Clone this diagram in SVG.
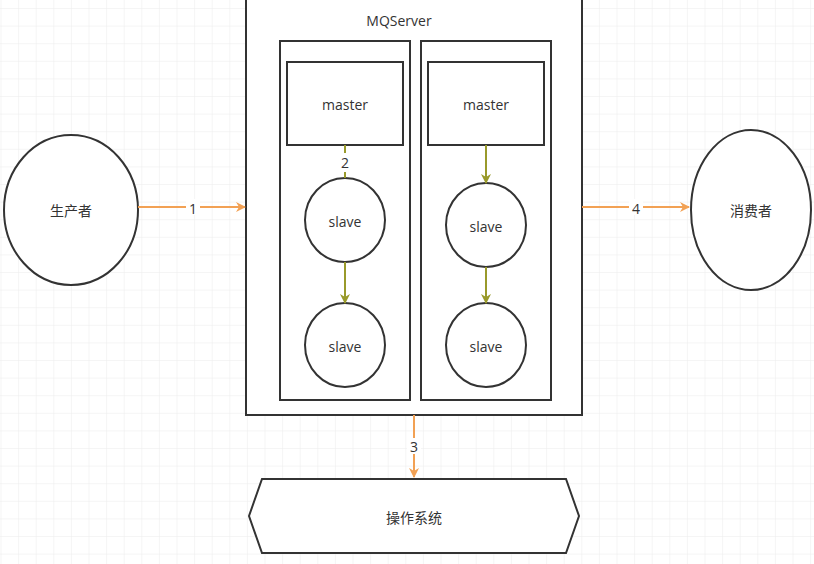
<svg xmlns="http://www.w3.org/2000/svg" width="814" height="564" viewBox="0 0 814 564">
<style>
.s{fill:#fff;stroke:#333;stroke-width:2}
.t{font-family:"Open Sans","Liberation Sans","Noto Sans CJK SC",sans-serif;font-size:14px;fill:#333;text-anchor:middle;dominant-baseline:central}
.o{stroke:#f2a154;stroke-width:2;fill:none;marker-end:url(#ao)}
.g{stroke:#999a2b;stroke-width:2;fill:none;marker-end:url(#ag)}
</style>
<defs>
<pattern id="grid" width="17.6" height="17.6" patternUnits="userSpaceOnUse" x="1.5" y="9">
<path d="M17.6 0V17.6M0 17.6H17.6" stroke="#ececec" stroke-width="1" fill="none"/>
</pattern>
<marker id="ao" markerWidth="10" markerHeight="10" refX="9" refY="5" orient="auto" markerUnits="userSpaceOnUse"><path d="M0,0L10,5L0,10L3,5z" fill="#f2a154"/></marker>
<marker id="ag" markerWidth="10" markerHeight="10" refX="9" refY="5" orient="auto" markerUnits="userSpaceOnUse"><path d="M0,0L10,5L0,10L3,5z" fill="#999a2b"/></marker>
</defs>
<rect width="814" height="564" fill="#fff"/>
<rect width="814" height="564" fill="url(#grid)"/>
<g id="mqserver"><rect class="s" x="246" y="-1" width="336" height="416"/><text class="t" x="399" y="20">MQServer</text></g>
<g id="groupL"><rect class="s" x="280" y="41" width="130" height="359"/></g>
<g id="groupR"><rect class="s" x="421" y="41" width="130" height="359"/></g>
<g id="masterL"><rect class="s" x="287" y="62" width="116" height="83"/><text class="t" x="345" y="104">master</text></g>
<g id="masterR"><rect class="s" x="428" y="62" width="116" height="83"/><text class="t" x="486" y="104">master</text></g>
<g id="slaveL1"><ellipse class="s" cx="345" cy="220" rx="40" ry="42"/><text class="t" x="345" y="221">slave</text></g>
<g id="slaveL2"><ellipse class="s" cx="345" cy="345" rx="40" ry="42"/><text class="t" x="345" y="346">slave</text></g>
<g id="slaveR1"><ellipse class="s" cx="486" cy="225" rx="40" ry="42"/><text class="t" x="486" y="226">slave</text></g>
<g id="slaveR2"><ellipse class="s" cx="486" cy="345" rx="40" ry="42"/><text class="t" x="486" y="346">slave</text></g>
<g id="producer"><ellipse class="s" cx="71" cy="210" rx="67" ry="75"/><text class="t" x="71" y="210">生产者</text></g>
<g id="consumer"><ellipse class="s" cx="751" cy="210" rx="60" ry="80"/><text class="t" x="751" y="210">消费者</text></g>
<g id="os"><polygon class="s" points="262,479 566,479 579,516 566,553 262,553 249,516"/><text class="t" x="414" y="517">操作系统</text></g>
<g id="connectors">
<path class="o" d="M138,207H245"/><rect x="186" y="199" width="14" height="16" fill="#fff"/><text class="t" x="193" y="208">1</text>
<path class="o" d="M582,207H689"/><rect x="629" y="199" width="14" height="16" fill="#fff"/><text class="t" x="636" y="208">4</text>
<path class="o" d="M414,415V477"/><rect x="407" y="438" width="14" height="16" fill="#fff"/><text class="t" x="414" y="446">3</text>
<path d="M345,145V178" stroke="#999a2b" stroke-width="2"/><rect x="338" y="153" width="14" height="19" fill="#fff"/><text class="t" x="345" y="162">2</text>
<path class="g" d="M486,145V183"/>
<path class="g" d="M345,262V303"/>
<path class="g" d="M486,267V303"/>
</g>
</svg>
